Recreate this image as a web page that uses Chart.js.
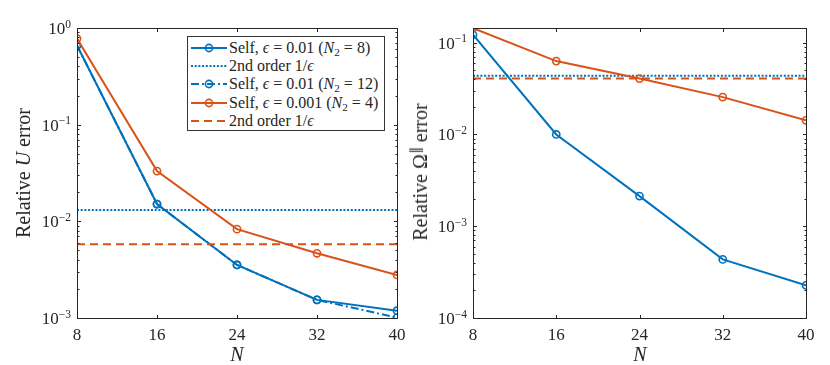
<!DOCTYPE html>
<html><head><meta charset="utf-8">
<script src="https://cdn.jsdelivr.net/npm/chart.js@4"></script>
<style>
body{margin:0;width:830px;height:365px;background:#fff;position:relative;overflow:hidden;font-family:"Liberation Serif",serif;color:#262626}
canvas{position:absolute;top:0}
#c1{left:0}#c2{left:415px}
.t{position:absolute;white-space:nowrap;font-size:20px;line-height:1}
.yt{transform:translate(-50%,-50%) rotate(-90deg)}
.xt{transform:translate(-50%,-50%);font-style:italic}
#leg{position:absolute;left:187px;top:36px;width:198px;height:95px;border:1px solid #333;background:#fff;box-sizing:border-box}
.row{position:absolute;left:0;height:18px;width:196px}
.row svg{position:absolute;left:2px;top:0}
.row .txt{position:absolute;left:41px;top:1px;font-size:16px;white-space:nowrap;line-height:16px}
i{font-style:italic}
sub{font-size:70%;vertical-align:-3px;line-height:0}
sup{font-size:70%;vertical-align:7px;line-height:0}
.eq{margin:0 4px}
</style></head><body>
<canvas id="c1" width="415" height="365"></canvas>
<canvas id="c2" width="415" height="365"></canvas>
<div class="t yt" style="left:23px;top:173px">Relative <i>U</i> error</div>
<div class="t yt" style="left:420px;top:172px">Relative Ω<sup>∥</sup> error</div>
<div class="t xt" style="left:237px;top:354px">N</div>
<div class="t xt" style="left:640px;top:354px">N</div>
<div id="leg"></div>
<script>
const N = [8, 16, 24, 32, 40];
const xTickVals = [8, 16, 24, 32, 40];
// Left panel: relative U error
const uSelfEps01 = [0.66, 0.0151, 0.00354, 0.00154, 0.00119];
const uSelfEps01N12 = [0.66, 0.0151, 0.00354, 0.00154, 0.00101];
const uSelfEps001 = [0.777, 0.0331, 0.0083, 0.00467, 0.00279];
const u2ndEps01 = 0.0131;
const u2ndEps001 = 0.00578;
const uDecades = [1e-3, 1e-2, 1e-1, 1e0];
// Right panel: relative Omega-parallel error
const omSelfEps01 = [0.122, 0.0100, 0.00213, 0.000435, 0.000227];
const omSelfEps001 = [0.144, 0.063, 0.0406, 0.0255, 0.01426];
const om2ndEps01 = 0.0436;
const om2ndEps001 = 0.0408;
const omDecades = [1e-4, 1e-3, 1e-2, 1e-1];

const BLUE = '#0072BD', ORANGE = '#D95319';
const FONT = '"Liberation Serif", serif';

function pts(vals){ return N.map((n,i)=>({x:n, y:vals[i]})); }
function hline(v){ return N.map(n=>({x:n, y:v})); }

function lineDs(label, data, color, dash, marker, order){
  return {label, data, borderColor:color, backgroundColor:color, borderWidth:2,
    borderDash:dash, pointRadius:marker?3.6:0, pointBorderWidth:1.6,
    pointBackgroundColor:'rgba(0,0,0,0)', pointBorderColor:color, pointHoverRadius:0,
    fill:false, tension:0, order};
}

const boxPlugin = {
  id:'boxAxes',
  afterDraw(chart, args, opts){
    const {ctx, chartArea:a, scales:{x, y}} = chart;
    ctx.save();
    ctx.strokeStyle = '#262626'; ctx.lineWidth = 1;
    const L = Math.round(a.left)+0.5, R = Math.round(a.right)+0.5, T = Math.round(a.top)+0.5, B = Math.round(a.bottom)+0.5;
    ctx.beginPath();
    xTickVals.forEach(v=>{
      const px = Math.round(x.getPixelForValue(v))+0.5;
      ctx.moveTo(px, B); ctx.lineTo(px, B-3.5);
      ctx.moveTo(px, T); ctx.lineTo(px, T+3.5);
    });
    const lo = Math.floor(Math.log10(y.min)), hi = Math.ceil(Math.log10(y.max));
    for(let e=lo; e<=hi; e++){
      for(let m=1; m<=9; m++){
        const v = m*Math.pow(10,e);
        if(v < y.min*0.999 || v > y.max*1.001) continue;
        const len = m===1 ? 3.5 : 2;
        const py = Math.round(y.getPixelForValue(v))+0.5;
        ctx.moveTo(L, py); ctx.lineTo(L+len, py);
        ctx.moveTo(R, py); ctx.lineTo(R-len, py);
      }
    }
    ctx.stroke();
    ctx.strokeRect(L, T, R-L, B-T);
    // decade labels
    ctx.fillStyle = '#262626';
    opts.decades.forEach(v=>{
      const e = Math.round(Math.log10(v));
      const py = y.getPixelForValue(v);
      const expTxt = e===0 ? '0' : '\u2212'+(-e);
      ctx.font = '11.5px '+FONT;
      const wE = ctx.measureText(expTxt).width;
      ctx.font = '17px '+FONT;
      const wD = ctx.measureText('10').width;
      const xe = a.left - 6;
      ctx.textBaseline = 'alphabetic'; ctx.textAlign = 'left';
      ctx.fillText('10', xe - wE - wD, py + 6);
      ctx.font = '11.5px '+FONT;
      ctx.fillText(expTxt, xe - wE, py - 0.5);
    });
    ctx.restore();
  }
};

function makeChart(id, datasets, ymin, ymax, decades, yWidth, padRight){
  return new Chart(document.getElementById(id), {
    type:'line',
    data:{datasets},
    options:{
      responsive:false, animation:false, events:[],
      layout:{padding:{left:0, right:padRight, top:28, bottom:0}},
      plugins:{legend:{display:false}, tooltip:{enabled:false}, boxAxes:{decades}},
      scales:{
        x:{type:'linear', min:8, max:40, border:{display:false},
          grid:{display:false, drawTicks:false},
          afterBuildTicks(s){ s.ticks = xTickVals.map(v=>({value:v})); },
          afterFit(s){ s.height = 47; },
          ticks:{font:{family:FONT, size:17}, color:'#262626', padding:7, maxRotation:0}},
        y:{type:'logarithmic', min:ymin, max:ymax, border:{display:false},
          grid:{display:false, drawTicks:false},
          ticks:{display:false},
          afterFit(s){ s.width = yWidth; }}
      }
    },
    plugins:[boxPlugin]
  });
}

makeChart('c1', [
  lineDs('Self, eps=0.01 (N2=8)', pts(uSelfEps01), BLUE, [], true, 5),
  lineDs('2nd order 1/eps', hline(u2ndEps01), BLUE, [2,1.7], false, 4),
  lineDs('Self, eps=0.01 (N2=12)', pts(uSelfEps01N12), BLUE, [8,3,2,3], true, 3),
  lineDs('Self, eps=0.001 (N2=4)', pts(uSelfEps001), ORANGE, [], true, 2),
  lineDs('2nd order 1/eps', hline(u2ndEps001), ORANGE, [8,5], false, 1)
], 1e-3, 1, uDecades, 77, 18);

makeChart('c2', [
  lineDs('Self, eps=0.01 (N2=8)', pts(omSelfEps01), BLUE, [], true, 5),
  lineDs('2nd order 1/eps', hline(om2ndEps01), BLUE, [2,1.7], false, 4),
  lineDs('Self, eps=0.001 (N2=4)', pts(omSelfEps001), ORANGE, [], true, 2),
  lineDs('2nd order 1/eps', hline(om2ndEps001), ORANGE, [8,5], false, 1)
], 1e-4, 0.1445, omDecades, 58, 24);

// Legend (HTML)
const legendItems = [
  {html:'Self, <i>ϵ</i><span class="eq">=</span>0.01 (<i>N</i><sub>2</sub><span class="eq">=</span>8)', color:BLUE, dash:'', marker:true},
  {html:'2nd order 1/<i>ϵ</i>', color:BLUE, dash:'2 1.7', marker:false},
  {html:'Self, <i>ϵ</i><span class="eq">=</span>0.01 (<i>N</i><sub>2</sub><span class="eq">=</span>12)', color:BLUE, dash:'8 3 2 3', marker:true},
  {html:'Self, <i>ϵ</i><span class="eq">=</span>0.001 (<i>N</i><sub>2</sub><span class="eq">=</span>4)', color:ORANGE, dash:'', marker:true},
  {html:'2nd order 1/<i>ϵ</i>', color:ORANGE, dash:'8 5', marker:false}
];
const leg = document.getElementById('leg');
legendItems.forEach((it, i)=>{
  const r = document.createElement('div');
  r.className = 'row';
  r.style.top = (1.7 + i*18.3) + 'px';
  r.innerHTML = `<svg width="38" height="18"><line x1="1" y1="9" x2="37" y2="9" stroke="${it.color}" stroke-width="2" ${it.dash?`stroke-dasharray="${it.dash}"`:''}/>${it.marker?`<circle cx="19" cy="9" r="3.6" fill="none" stroke="${it.color}" stroke-width="1.6"/>`:''}</svg><span class="txt">${it.html}</span>`;
  leg.appendChild(r);
});
</script>
</body></html>
